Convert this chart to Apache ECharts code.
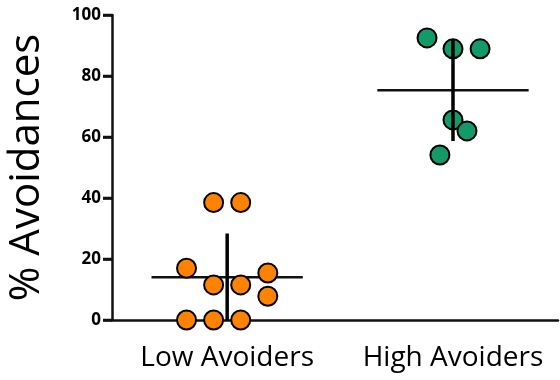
<!DOCTYPE html>
<html>
<head>
<meta charset="utf-8">
<script src="https://cdn.jsdelivr.net/npm/echarts@6/dist/echarts.min.js"></script>
<style>
  html, body { margin: 0; padding: 0; background: #fff; }
  #chart { width: 560px; height: 380px; }
</style>
</head>
<body>
<div id="chart"></div>
<script>
// groups and values
const categories = ['Low Avoiders', 'High Avoiders'];
const lowValues = [38.5, 38.5, 17, 15.4, 11.5, 11.5, 7.8, 0, 0, 0];
const lowJitter = [-0.06, 0.06, -0.18, 0.18, -0.06, 0.06, 0.18, -0.18, -0.06, 0.06];
const highValues = [92.5, 88.9, 88.9, 65.6, 62.0, 54.1];
const highJitter = [-0.115, 0, 0.12, 0, 0.062, -0.058];
const yTicks = [0, 20, 40, 60, 80, 100];

function meanSd(arr) {
    let m = arr.reduce((a, b) => a + b, 0) / arr.length;
    let v = arr.reduce((a, b) => a + (b - m) * (b - m), 0) / (arr.length - 1);
    return [m, Math.sqrt(v)];
}

function toPoints(values, jitter, idx) {
    return values.map((v, i) => [idx + jitter[i], v]);
}

// mean and SD per group, drawn as error bars
let stats = [lowValues, highValues].map((vals, i) => {
    let ms = meanSd(vals);
    return [i, ms[0], ms[1]];
});

let myChart = echarts.init(document.getElementById('chart'));

let option = {
    animation: false,
    grid: { left: 112, right: 2, top: 15, bottom: 60, containLabel: false, outerBoundsMode: 'none' },
    xAxis: {
        type: 'value',
        min: -0.51,
        max: 1.465,
        axisLine: { show: true, onZero: false, lineStyle: { color: '#111', width: 2.5 } },
        axisTick: { show: false },
        splitLine: { show: false },
        axisLabel: {
            customValues: [0, 1],
            color: '#000',
            fontFamily: 'Open Sans',
            fontSize: 28,
            margin: 24,
            formatter: function(value) {
                return categories[Math.round(value)] || '';
            }
        }
    },
    yAxis: {
        type: 'value',
        min: yTicks[0],
        max: yTicks[yTicks.length - 1],
        interval: 20,
        name: '% Avoidances',
        nameLocation: 'middle',
        nameGap: 64,
        nameTextStyle: { color: '#000', fontFamily: 'Open Sans', fontSize: 42 },
        axisLine: { show: true, onZero: false, lineStyle: { color: '#111', width: 2.5 } },
        axisTick: { show: true, length: 9, lineStyle: { color: '#000', width: 2.5 } },
        splitLine: { show: false },
        axisLabel: {
            color: '#000',
            fontFamily: 'Open Sans',
            fontWeight: 'bold',
            fontSize: 17,
            margin: 0,
            // label text followed by a short dash that reaches the axis line (the tick mark)
            formatter: function(value) {
                return '{v|' + value + '}{t|}';
            },
            rich: {
                v: { fontFamily: 'Open Sans', fontWeight: 'bold', fontSize: 17, color: '#000', padding: [0, 2, 0, 0] },
                t: { width: 9, height: 2.5, backgroundColor: '#111' }
            }
        }
    },
    series: [
        {
            // mean line
            type: 'custom',
            z: 1,
            data: stats,
            renderItem: function(params, api) {
                let x = api.value(0), m = api.value(1);
                let p1 = api.coord([x - 0.335, m]);
                let p2 = api.coord([x + 0.335, m]);
                return {
                    type: 'line',
                    shape: { x1: p1[0], y1: p1[1], x2: p2[0], y2: p2[1] },
                    style: { stroke: '#111', lineWidth: 2.5 }
                };
            }
        },
        {
            name: 'Low Avoiders',
            type: 'scatter',
            z: 2,
            symbolSize: 19,
            data: toPoints(lowValues, lowJitter, 0),
            itemStyle: { color: '#ff8300', borderColor: '#000', borderWidth: 2, opacity: 1 }
        },
        {
            name: 'High Avoiders',
            type: 'scatter',
            z: 2,
            symbolSize: 19,
            data: toPoints(highValues, highJitter, 1),
            itemStyle: { color: '#139a68', borderColor: '#000', borderWidth: 2, opacity: 1 }
        },
        {
            // SD line
            type: 'custom',
            z: 3,
            data: stats,
            renderItem: function(params, api) {
                let x = api.value(0), m = api.value(1), sd = api.value(2);
                let p1 = api.coord([x, Math.max(0, m - sd)]);
                let p2 = api.coord([x, m + sd]);
                return {
                    type: 'line',
                    shape: { x1: p1[0], y1: p1[1], x2: p2[0], y2: p2[1] },
                    style: { stroke: '#000', lineWidth: 3.5 }
                };
            }
        }
    ]
};

myChart.setOption(option);
</script>
</body>
</html>
